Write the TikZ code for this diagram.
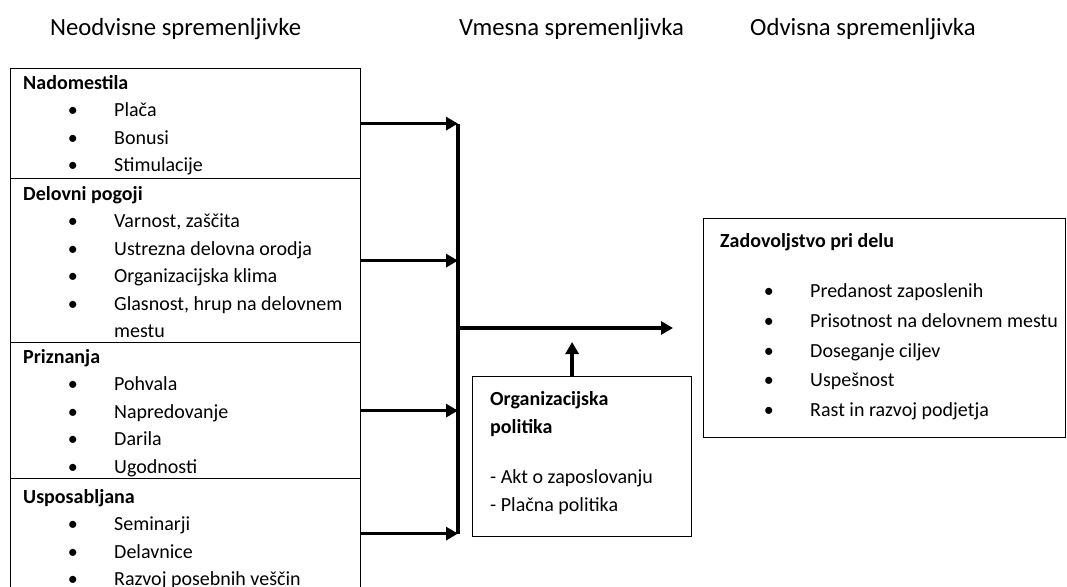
\documentclass[tikz,border=0pt]{standalone}
\usepackage{fontspec}
\setmainfont{Carlito}
\usetikzlibrary{arrows.meta,positioning}

\tikzset{
	box/.style={draw, line width=1.2pt, anchor=north west, inner sep=0pt},
	txt/.style={anchor=west, inner sep=0pt, font=\fontsize{20}{24}\selectfont, text height=13pt, text depth=4pt},
	head/.style={txt, font=\bfseries\fontsize{20}{24}\selectfont},
	title/.style={anchor=base west, inner sep=0pt, font=\fontsize{24.7}{30}\selectfont},
	item/.style={txt, label={[inner sep=0pt, font=\fontsize{20}{24}\selectfont, label distance=36pt]left:\textbullet}},
	arr/.style={line width=3.4pt, -{Triangle[length=12pt,width=13pt]}},
}

\begin{document}
\begin{tikzpicture}[x=1pt, y=-1pt]

	\useasboundingbox (0,0) rectangle (1067,586);
	\clip (0,0) rectangle (1067,586);

	% titles
	\node[title] (t1) at (50, 36) {Neodvisne spremenljivke};
	\node[title] (t2) at (459, 36) {Vmesna spremenljivka};
	\node[title] (t3) at (750, 36) {Odvisna spremenljivka};

	% left column
	\node[box, minimum width=350pt, minimum height=110pt] (nad) at (10, 68) {};
	\node[box, minimum width=350pt, minimum height=164pt] (del) at (10, 178) {};
	\node[box, minimum width=350pt, minimum height=136pt] (pri) at (10, 342) {};
	\node[box, minimum width=350pt, minimum height=110pt] (usp) at (10, 478) {};

	\node[head] (nadh) at (23, 85) {Nadomestila};
	\foreach \t [count=\i] in {Plača, Bonusi, Stimulacije}
		\node[item] (nad\i) at (114, {85+27.4*\i}) {\t};

	\node[head] (delh) at (23, 196) {Delovni pogoji};
	\foreach \t [count=\i] in {{Varnost, zaščita}, Ustrezna delovna orodja, Organizacijska klima, {Glasnost, hrup na delovnem}}
		\node[item] (del\i) at (114, {196+27.4*\i}) {\t};
	\node[txt] (del5) at (114, 333) {mestu};

	\node[head] (prih) at (23, 359) {Priznanja};
	\foreach \t [count=\i] in {Pohvala, Napredovanje, Darila, Ugodnosti}
		\node[item] (pri\i) at (114, {359+27.4*\i}) {\t};

	\node[head] (usph) at (23, 499) {Usposabljana};
	\foreach \t [count=\i] in {Seminarji, Delavnice, Razvoj posebnih veščin}
		\node[item] (usp\i) at (114, {499+27.4*\i}) {\t};

	% middle
	\coordinate (bar) at (458, 0);
	\coordinate (tip) at (673, 328);
	\node[box, minimum width=219pt, minimum height=160pt] (org) at (472, 376) {};
	\node[head] (orgh1) at (490, 401) {Organizacijska};
	\node[head] (orgh2) at (490, 429) {politika};
	\node[txt] (org1) at (490, 479) {- Akt o zaposlovanju};
	\node[txt] (org2) at (490, 507) {- Plačna politika};

	\draw[line width=3.4pt] (bar |- nad.east) -- (bar |- usp.east);
	\foreach \b in {nad, del, pri, usp}
		\draw[arr] (\b.east) -- (bar |- \b.east);
	\draw[arr] (bar |- tip) -- (tip);
	\draw[arr] ([xshift=-10pt]org.north) -- ++(0, -34);

	% right
	\node[box, minimum width=362pt, minimum height=219pt] (zad) at (703, 218) {};
	\node[head] (zadh) at (720, 243) {Zadovoljstvo pri delu};
	\foreach \t [count=\i] in {Predanost zaposlenih, Prisotnost na delovnem mestu, Doseganje ciljev, Uspešnost, Rast in razvoj podjetja}
		\node[item] (zad\i) at (810, {263.5+29.7*\i}) {\t};

\end{tikzpicture}
\end{document}
